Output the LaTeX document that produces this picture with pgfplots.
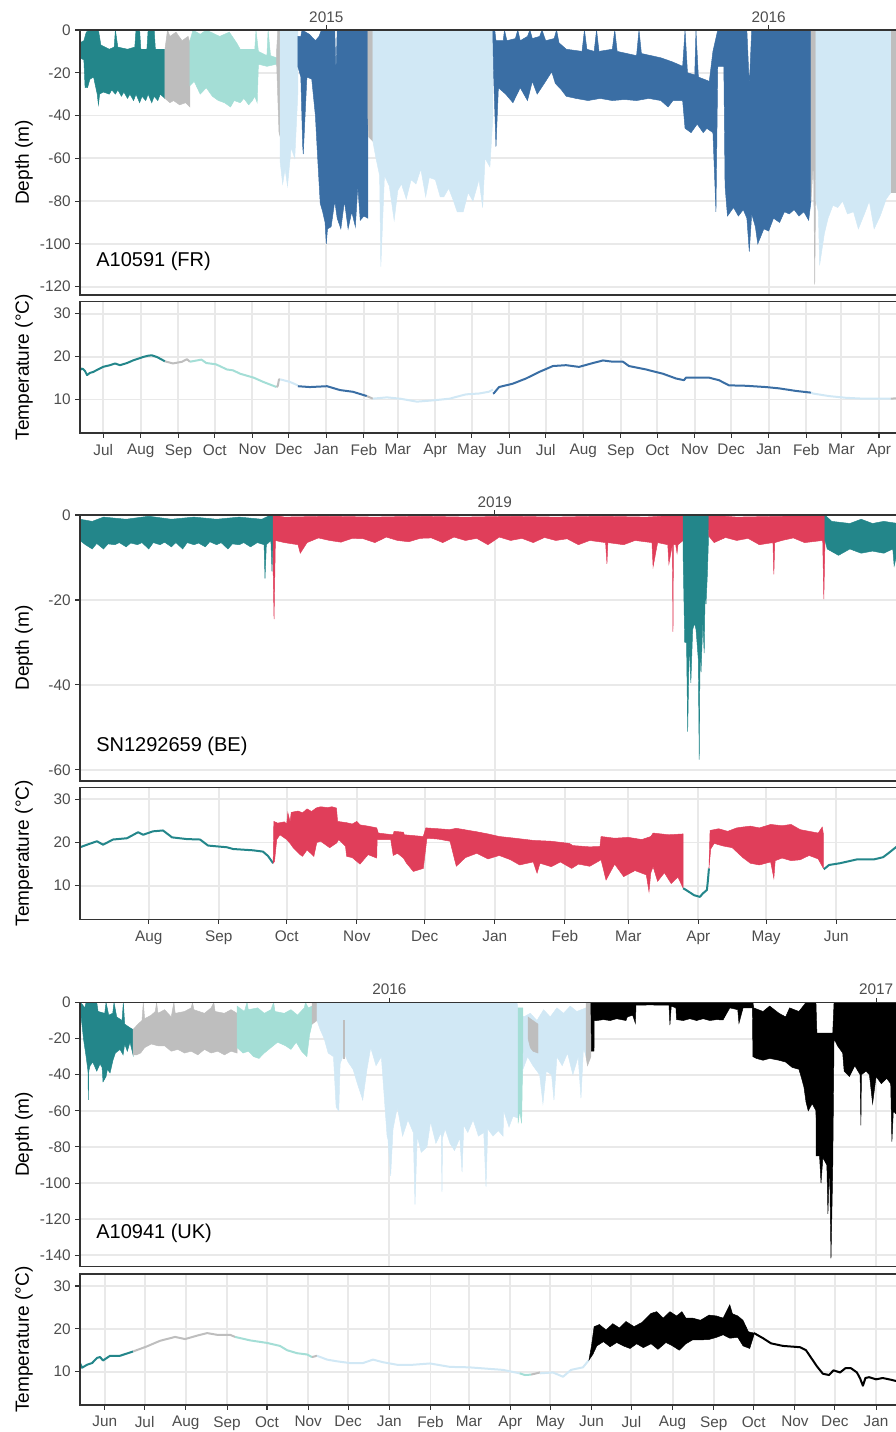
\documentclass[border=0pt]{standalone}
\usepackage{pgfplots}
\pgfplotsset{compat=1.18}
\usepackage{fontspec}
\setmainfont{Liberation Sans}
\definecolor{cteal}{RGB}{35,134,138}
\definecolor{cgray}{RGB}{190,190,190}
\definecolor{cmint}{RGB}{164,222,214}
\definecolor{clblue}{RGB}{209,232,245}
\definecolor{csteel}{RGB}{58,110,164}
\definecolor{cred}{RGB}{224,62,90}
\definecolor{cframe}{RGB}{51,51,51}
\definecolor{ctick}{RGB}{77,77,77}
\definecolor{cgrid}{RGB}{233,233,233}
\pgfplotsset{
 common/.style={
  scale only axis, width=613.5pt, anchor=south west,
  clip mode=individual,
  axis line style={cframe, line width=0.8pt},
  every tick/.style={cframe, line width=0.8pt},
  tick align=outside, major tick length=3.5pt,
  ytick pos=left,
  ticklabel style={font=\fontsize{11.5}{13}\selectfont, text=ctick},
  xmajorgrids, ymajorgrids,
  major grid style={cgrid, line width=1.4pt},
  ylabel style={font=\fontsize{14.3}{16}\selectfont, at={(axis description cs:-0.0685,0.5)}, anchor=center},
 },
 depth/.style={common, xtick pos=right, xticklabel pos=right, ylabel={Depth (m)},
   xticklabel style={yshift=-1.5pt}},
 temp/.style={common, xtick pos=left, ylabel={Temperature (°C)}, ymin=2.2, ymax=32.8,
   ytick={10,20,30}, yticklabels={10,20,30}, height=98.5pt, xticklabel style={yshift=-1.5pt}},
 seg/.style={fill=#1, draw=#1, line width=0.35pt},
 tl/.style={draw=#1, line width=1.5pt, line join=round},
}
\newcommand{\frameit}{\draw[cframe, line width=0.8pt] (rel axis cs:1,1) -- (rel axis cs:0,1) -- (rel axis cs:0,0) -- (rel axis cs:1,0);}
\begin{document}
\begin{tikzpicture}
%================ PANEL 1 depth (days from 2014-07-01)
\begin{axis}[depth, at={(60pt,852.75pt)}, height=198.75pt,
  xmin=-19.2, xmax=655.7, ymin=-123.9, ymax=0,
  ytick={-120,-100,-80,-60,-40,-20,0}, yticklabels={-120,-100,-80,-60,-40,-20,0},
  xtick={184,549}, xticklabels={2015,2016}]
\addplot[seg=cteal] coordinates {(-19.2,-6)(-16,-5)(-14,-1)(-11,0)(-4,0)(-2,-7)(5,-9)(9,-8)(10,0)(12,-8)(20,-9)(26,-8)(27,0)(30,0)(31,-9)(36,-9)(37,0)(42,0)(43,-9)(50.9,-9)
 (50.9,-32)(47,-30)(45,-33)(42,-31)(40,-34)(37,-30)(35,-33)(32,-31)(30,-34)(27,-30)(25,-33)(22,-30)(20,-32)(17,-29)(15,-31)(12,-28)(10,-30)(7,-28)(5,-30)(0,-29)(-3,-30)(-4,-35)(-5,-30)(-8,-22)(-11,-23)(-13,-27)(-15,-27)(-16,-14)(-19.2,-13)} -- cycle;
\addplot[seg=cgray] coordinates {(50.9,-9)(53,0)(55,-3)(60,-1)(65,-5)(70,-3)(71.5,-6)(71.5,-36)(68,-34)(63,-35)(58,-33)(55,-34)(50.9,-32)} -- cycle;
\addplot[seg=cmint] coordinates {(71.5,-5)(74,0)(80,-2)(85,0)(96,-3)(104,-1)(110,-6)(113,-9)(125,-9)(126,0)(128,-10)(135,-12)(136,0)(138,-12)(143,-13)
 (143,-16)(135,-17)(128,-16)(127,-34)(125,-31)(123,-33)(120,-35)(116,-32)(113,-34)(108,-33)(105,-36)(100,-34)(95,-33)(90,-31)(85,-27)(80,-30)(75,-24)(71.5,-26)} -- cycle;
\addplot[seg=cgray] coordinates {(143,-10)(144,0)(146,0)(146,-50)(145,-48)(143,-15)} -- cycle;
\addplot[seg=clblue] coordinates {(146,0)(160.5,0)(160.5,-30)(158,-60)(155,-55)(152,-73)(150,-65)(148,-72)(146,-62)} -- cycle;
\addplot[seg=csteel] coordinates {(160.5,-3)(163,-3)(164,0)(170,-2)(175,-5)(178,-3)(180,0)(191,0)(192,-20)(193,0)(218.3,0)
 (218.3,-88)(215,-87)(212,-89)(210,-73)(208,-92)(205,-85)(202,-93)(199,-80)(196,-93)(193,-88)(191,-80)(188,-92)(185,-93)(184,-100)(183,-90)(181,-85)(179,-81)(177,-61)(175,-40)(172,-23)(168,-22)(165,-58)(164.5,-54)(163,-22)(160.5,-17)} -- cycle;
\addplot[seg=cgray] coordinates {(218.3,0)(222.4,0)(222.4,-52)(219,-50)(218.3,-40)} -- cycle;
\addplot[seg=clblue] coordinates {(222.4,0)(321.5,0)(321.5,-40)(319,-64)(315,-60)(313,-83)(310,-70)(305,-80)(301,-76)(297,-85)(292,-85)(289,-80)(285,-74)(281,-78)(278,-78)(274,-70)(269,-69)(266,-78)(262,-65)(258,-72)(254,-70)(250,-79)(246,-72)(243,-75)(240,-89)(236,-73)(232,-68)(229,-110.6)(228,-68)(225,-60)(222.4,-52)} -- cycle;
\addplot[seg=csteel] coordinates {(321.5,0)(323,0)(324,-5)(330,-5)(331,0)(333,-5)(340,-4)(342,0)(344,-5)(350,-3)(352,0)(354,-4)(360,-3)(362,0)(365,-5)(372,-4)(374,0)(376,-6)(382,-9)(395,-10)(397,0)(399,-9)(405,-10)(407,0)(409,-10)(420,-9)(422,0)(424,-10)(440,-12)(442,0)(444,-11)(460,-13)(470,-15)(478,-17)(480,0)(482,-20)(488,-21)(489,0)(491,-22)(500,-24)(503,-10)(507,0)(512,0)(531,0)(533,-26)(535,0)(583.9,0)
 (583.9,-80)(582,-89)(578,-85)(574,-87)(570,-84)(566,-86)(562,-85)(558,-90)(553,-88)(549,-94)(545,-93)(540,-100)(538,-92)(535,-86)(533,-103.6)(531,-88)(528,-84)(524,-87)(520,-83)(515,-87)(513,-73)(512,-17)(507,-17)(505.5,-85)(503,-48)(498,-46)(495,-48)(490,-44)(485,-48)(480,-46)(478,-33)(470,-33)(466,-36)(460,-33)(450,-32)(440,-33)(430,-32.5)(420,-33)(410,-32)(400,-33)(390,-32)(382,-31)(378,-28)(373,-25)(370,-19.5)(365,-24)(358,-30)(354,-24)(350,-33)(344,-27)(338,-34)(332,-30)(326,-27)(324,-54.5)(322,-20)(321.5,-5)} -- cycle;
\addplot[seg=cgray] coordinates {(583.9,0)(588,0)(588,-60)(587,-119)(586,-60)(583.9,-80)} -- cycle;
\addplot[seg=clblue] coordinates {(588,0)(649.8,0)(649.8,-76)(646,-79)(641,-87)(636,-93)(632,-80)(628,-86)(623,-93)(619,-85)(614,-86)(610,-80)(606,-83)(602,-82)(598,-88)(595,-95)(591,-110)(590,-85)(588,-80)} -- cycle;
\addplot[seg=cgray] coordinates {(649.8,0)(655.7,0)(655.7,-76)(649.8,-76)} -- cycle;
\node[anchor=west, inner sep=0pt, font=\fontsize{15}{17}\selectfont] at (rel axis cs:0.0196,0.128) {A10591 (FR)};
\frameit
\end{axis}
%================ PANEL 1 temperature
\begin{axis}[temp, at={(60pt,749.25pt)},
  xmin=-19.2, xmax=655.7,
  xtick={0,31,62,92,123,153,184,215,243,274,304,335,365,396,427,457,488,518,549,580,609,640},
  xticklabels={Jul,Aug,Sep,Oct,Nov,Dec,Jan,Feb,Mar,Apr,May,Jun,Jul,Aug,Sep,Oct,Nov,Dec,Jan,Feb,Mar,Apr}]
\addplot[tl=cteal] coordinates {(-19.2,16.8)(-18,17.2)(-16.7,17.1)(-15,16.6)(-13.4,15.7)(-11,16.2)(-8.5,16.4)(-0.2,17.6)(5.5,18)(9.7,18.4)(13.8,18)(19.6,18.5)(24.5,19.1)(32.8,19.9)(36.9,20.2)(40,20.3)(44.3,19.9)(50.9,18.9)};
\addplot[tl=cgray] coordinates {(50.9,18.9)(57.5,18.4)(65,18.8)(69,19.4)(71.5,18.8)};
\addplot[tl=cmint] coordinates {(71.5,18.8)(81,19.3)(85,18.5)(93,18.2)(102,17)(107,16.8)(113,16)(124,15.1)(132,14.1)(143,12.9)};
\addplot[tl=cgray] coordinates {(143,12.9)(144,13.2)(145,14.7)(146,14.7)};
\addplot[tl=clblue] coordinates {(146,14.7)(154,14.1)(160.5,13.3)};
\addplot[tl=csteel] coordinates {(160.5,13.1)(170.5,12.9)(184.6,13.1)(195.3,12.2)(206,11.8)(217.5,10.8)};
\addplot[tl=cgray] coordinates {(217.5,10.8)(222.4,10.2)};
\addplot[tl=clblue] coordinates {(222.4,10.2)(234,10.5)(244.8,10.2)(258.8,9.5)(272,9.8)(286,10.2)(291,10.6)(299.3,11.2)(310,11.4)(318,11.8)(321.5,12.3)};
\addplot[tl=csteel] coordinates {(321.5,11.4)(322.4,11.5)(326.5,12.9)(338,13.7)(348.8,14.9)(359.5,16.4)(371,17.8)(381.8,18)(392.5,17.6)(404,18.5)(412.3,19.1)(420.5,18.8)(428.8,18.8)(433.7,17.8)(447.8,17)(461.8,16)(472.5,14.9)(479.1,14.5)(480.8,15.1)(499.7,15.1)(508,14.5)(516.2,13.3)(530.3,13.2)(546.8,12.9)(557.5,12.6)(571.5,12)(583.9,11.6)};
\addplot[tl=clblue] coordinates {(583.9,11.6)(585.5,11.4)(598.7,10.8)(612.7,10.4)(626.7,10.2)(640,10.2)(649.8,10.2)};
\addplot[tl=cgray] coordinates {(649.8,10.2)(655.7,10.3)};
\frameit
\end{axis}
%================ PANEL 2 depth (days from 2018-08-01)
\begin{axis}[depth, at={(60pt,488.25pt)}, height=199.5pt,
  xmin=-30.4, xmax=331.3, ymin=-62.6, ymax=0,
  ytick={-60,-40,-20,0}, yticklabels={-60,-40,-20,0},
  xtick={153}, xticklabels={2019}]
\addplot[seg=cteal] coordinates {(-30.4,-1)(-25,-1.5)(-20,-0.5)(-10,-1)(0,-0.3)(10,-1)(20,-0.5)(30,-1)(40,-0.5)(50,-1)(54,0)(55,0)
 (55,-6)(54.5,-13.3)(54,-6)(52,-7)(51.4,-15)(51,-7)(48,-6.5)(45,-7.5)(42,-6.5)(40,-7)(37,-6.8)(35,-8)(32,-6.5)(30,-7)(27,-6.3)(25,-7.5)(22,-6.6)(20,-7)(17,-6.5)(15,-8)(12,-6.5)(10,-7.5)(7,-6.4)(5,-7)(2,-6.5)(0,-8)(-3,-6.5)(-5,-7)(-8,-6.6)(-10,-7.5)(-13,-6.5)(-15,-7)(-18,-6.8)(-20,-8)(-23,-6.7)(-25,-8)(-28,-7)(-30.4,-6)} -- cycle;
\addplot[seg=cred] coordinates {(55,0)(60,-0.5)(80,-0.3)(100,-0.5)(120,-0.3)(140,-0.5)(160,-0.3)(180,-0.5)(200,-0.3)(220,-0.5)(236.3,0)
 (236.3,-6)(234,-7)(233.6,-9)(233,-7)(232,-7)(231.8,-27.5)(231.5,-7)(230,-11.5)(229.5,-7)(225,-6.5)(223,-12.2)(222.5,-6.5)(215,-6)(210,-7)(203,-6.5)(202.6,-11.5)(202,-6.5)(195,-6)(190,-7)(185,-5.6)(180,-6)(175,-5.3)(170,-6.5)(165,-5.5)(160,-6)(155,-5.2)(150,-7)(145,-5.5)(140,-6)(135,-5.2)(130,-6.5)(125,-5.4)(120,-5.5)(115,-6.3)(110,-6)(105,-5.2)(100,-6.5)(95,-5.6)(90,-5.5)(85,-6.4)(80,-6)(75,-5.4)(70,-6.5)(67,-9)(66,-7)(60,-6.5)(56,-6)(55.4,-24.5)(55,-13)} -- cycle;
\addplot[seg=cteal] coordinates {(236.3,0)(247.7,0)(247.7,-2)(247,-14)(246.4,-21)(246,-18)(245.6,-32.5)(245,-25)(244.2,-37)(243.8,-30)(243.4,-57.6)(243,-34)(242,-27)(241.3,-25.5)(240.5,-27)(239.7,-39.5)(239,-30)(238.3,-51)(237.8,-30)(237,-30)(236.3,-10)} -- cycle;
\addplot[seg=cred] coordinates {(247.7,0)(260,-0.5)(280,-0.3)(299,0)(299,-6)(298.5,-19.8)(298,-6)(290,-6.5)(285,-5.4)(280,-6)(276.8,-6.5)(276.4,-14)(276,-6.5)(270,-7)(265,-5.5)(260,-6)(255,-5.3)(250,-6.5)(247.7,-5)} -- cycle;
\addplot[seg=cteal] coordinates {(299,0)(302,-1.5)(310,-2)(315,-1)(320,-2)(325,-1.5)(331.3,-2)(331.3,-8)(329.6,-12)(329,-8)(325,-9)(320,-8.5)(315,-9)(310,-8)(305,-9.5)(300,-8)(299,-6)} -- cycle;
\node[anchor=west, inner sep=0pt, font=\fontsize{15}{17}\selectfont] at (rel axis cs:0.0196,0.130) {SN1292659 (BE)};
\frameit
\end{axis}
%================ PANEL 2 temperature
\begin{axis}[temp, at={(60pt,384.5pt)}, height=99pt,
  xmin=-30.4, xmax=331.3,
  xtick={0,31,61,92,122,153,184,212,243,273,304},
  xticklabels={Aug,Sep,Oct,Nov,Dec,Jan,Feb,Mar,Apr,May,Jun}]
\addplot[tl=cteal] coordinates {(-30.4,18.9)(-27.3,19.5)(-22.9,20.3)(-20.2,19.5)(-15.8,20.7)(-9.6,21.0)(-4.7,22.4)(-2.5,21.8)(1.9,22.6)(6.3,22.8)(10.3,21.2)(16.9,20.8)(22.7,20.7)(26.2,19.3)(34.6,18.9)(37.3,18.5)(46.1,18.2)(50.5,17.9)(52.7,16.9)(55,15.2)};
\addplot[seg=cred] coordinates {(55,15.2)(55.3,24.9)(57,24.5)(60,24.8)(61,24.3)(61.5,26.9)(62.5,24.8)(63,27)(66,27.3)(68,26.9)(70,27.8)(72,27.2)(74,28)(76,28.3)(79,28.1)(81,28.3)(83,28)(83.5,24.9)(87.5,24.6)(90,24.3)(92,24.9)(93.4,24.1)(97,23.8)(100.8,23.4)(101.5,22.2)(108,21.8)(108.5,22.6)(112.6,22.4)(113,21.8)(121.4,21.4)(122.5,23.4)(128,23.2)(133,23)(136,23.3)(145,22.5)(150,22)(155,21.4)(162,21)(170,20.5)(178,20.3)(186,19.8)(187.5,19.3)(195,19)(199.5,19.1)(200,21.4)(206,21)(212,21.2)(218,20.7)(222,21.4)(223,22.2)(230,21.8)(236.3,22)
 (236.3,9.4)(234,12)(231,10.5)(228,13)(225,11)(223,14.4)(222,13)(221.2,8.6)(220,12.5)(215,13.5)(210,12.1)(206,15)(202.2,11.3)(200,16)(195,14.5)(190,15)(187,14)(182,15.5)(178,14.4)(173,15.2)(171.7,12.9)(170,15.5)(164,14.8)(160,16)(155,17)(150,16.2)(145,17.5)(140,16.5)(136,14.5)(133.2,20.3)(128,20.8)(123,21)(121.4,14)(117,13.3)(114,15.2)(112.6,16.4)(110,17.5)(108.1,17)(107,20.7)(101,20.7)(100.8,16.4)(97,17.2)(93.4,15)(90,16.5)(87.5,16.8)(87,19.1)(84,20.7)(83.1,19.9)(80,18.8)(76,20.3)(74.3,20)(73,16.8)(70,18.3)(68,16.8)(66.9,17.2)(64,18.7)(62.5,19.8)(61,20.7)(58,21.8)(56.6,20.7)(55.6,15.6)} -- cycle;
\addplot[tl=cteal] coordinates {(236.3,9.4)(237.6,9)(241.1,7.8)(243.7,7.4)(245,8.2)(246.8,9)(247.2,11)(247.7,14)};
\addplot[seg=cred] coordinates {(247.7,14)(248.2,22.8)(252,23.2)(256,22.6)(260,23.4)(262.7,23.6)(266,23.8)(270,23.4)(275,24.2)(280,23.9)(284,24.2)(288,23)(292,22.6)(296,22.2)(297.8,23.6)(298.3,22)
 (298.3,14)(296,16.2)(292,17)(288,16)(284,15.8)(280,16.4)(277,15.8)(276.4,11.7)(275,15.5)(270,14.8)(266,15.2)(262.7,16.5)(258,18.8)(254,19.2)(250,19.8)(248.5,18.5)} -- cycle;
\addplot[tl=cteal] coordinates {(298.5,13.8)(300.8,14.8)(305.6,15.2)(313.2,16.1)(320.7,16.1)(324.7,16.6)(327,17.5)(331.3,19.3)};
\frameit
\end{axis}
%================ PANEL 3 depth (days from 2015-06-01)
\begin{axis}[depth, at={(60pt,124pt)}, height=198.15pt,
  xmin=-18.6, xmax=596.5, ymin=-146.3, ymax=0,
  ytick={-140,-120,-100,-80,-60,-40,-20,0}, yticklabels={-140,-120,-100,-80,-60,-40,-20,0},
  xtick={214,580}, xticklabels={2016,2017}]
\addplot[seg=cteal] coordinates {(-18.6,0)(-17,-1)(-15,-3)(-14,0)(-6,0)(-5,-5)(0,-6)(1,0)(3,-7)(6,-6)(7,0)(9,-8)(13,-10)(14,0)(15,-12)(19,-14)(21.3,-15)
 (21.3,-29)(19,-22)(17,-27)(15,-23)(13.8,-29)(11.5,-26)(8,-28)(6.2,-32)(4,-39)(2,-37)(1,-41)(-1.3,-44)(-2,-36)(-3.5,-34)(-6,-38)(-9,-33)(-11,-35)(-12,-38)(-12.3,-54)(-12.6,-38)(-14,-30)(-14.8,-26)(-16,-20)(-17,-13)(-18.6,-3)} -- cycle;
\addplot[seg=cgray] coordinates {(21.3,-15)(25,-12)(28,-10)(29,0)(30,-9)(35,-7)(38,-5)(39,0)(40,-6)(45,-4)(50,-8)(52,0)(53,-6)(60,-5)(65,-3)(66,0)(67,-4)(75,-6)(80,-3)(82,0)(83,-5)(90,-6)(95,-4)(99.5,-6)
 (99.5,-28)(95,-27)(90,-29)(85,-27)(80,-28)(75,-26)(70,-29)(65,-27)(60,-28)(55,-26)(50,-27)(45,-24)(40,-24)(35,-23)(30,-25)(27,-28)(24,-29)(21.3,-29)} -- cycle;
\addplot[seg=cmint] coordinates {(99.5,-2)(105,-5)(107,0)(108,-4)(115,-3)(120,-6)(125,-4)(127,0)(128,-5)(135,-6)(140,-4)(145,-7)(150,-3)(151,0)(153,-3)(155.9,-2)
 (155.9,-12)(154,-18)(152,-30)(148,-27)(144,-22)(140,-26)(136,-24)(130,-22)(125,-25)(120,-28)(116,-31)(112,-30)(108,-27)(104,-28)(99.5,-25)} -- cycle;
\addplot[seg=cgray] coordinates {(155.9,0)(159.6,0)(159.6,-10)(155.9,-12)} -- cycle;
\addplot[seg=clblue] coordinates {(159.6,0)(310,0)(311,-5)(315,-8)(320,-6)(325,-10)(330,-4)(335,-8)(340,-3)(345,-6)(350,-2)(355,-5)(361.9,-3)
 (361.9,-30)(360,-25)(358.1,-53)(356,-30)(352,-40)(348,-28)(344,-35)(340,-30)(337.8,-54)(336,-40)(332,-38)(329.5,-56)(327,-40)(322,-35)(318,-30)(314.5,-37)(313,-50)(310.8,-64)(307,-63)(304,-69)(300,-60)(299.5,-74)(296,-71)(292,-74)(288,-70)(286.7,-102)(285,-72)(281,-74)(277,-65)(273,-72)(270,-68)(268.7,-94)(267,-75)(263,-82)(259.6,-78)(256,-70)(254,-75)(253.6,-105)(253,-72)(249,-78)(245,-66)(242.3,-80)(238,-83)(235,-74)(233.3,-112)(232,-72)(228,-65)(224,-74)(220,-58)(216.8,-70)(215,-96)(213,-76)(212.3,-74)(208,-30)(204,-35)(200,-25)(197.2,-37)(194,-54)(190,-45)(186.7,-37)(183,-33)(180,-28)(177,-34)(176,-60)(174,-58)(172,-30)(168,-28)(165,-20)(162,-15)(159.6,-10)} -- cycle;
\addplot[seg=cgray] coordinates {(179.5,-10)(180.2,-10)(180.2,-31)(179.5,-31)} -- cycle;
\addplot[seg=cmint] coordinates {(310.8,-3)(314.5,-3)(314.5,-20)(313.5,-67)(312,-60)(310.8,-67)} -- cycle;
\addplot[seg=cgray] coordinates {(318.3,-8)(320,-9)(322,-10)(325.8,-12)(325.8,-28)(322,-27)(320,-25)(318.3,-20)} -- cycle;
\addplot[seg=cgray] coordinates {(361.9,0)(365.6,0)(365.6,-30)(363,-35)(361.9,-30)} -- cycle;
\addplot[seg=black] coordinates {(365.6,0)(487.4,0)(488,-3)(495,-5)(500,-2)(507,-6)(512,-8)(515,-3)(522,-5)(527.3,0)(534.8,0)(535.5,-17)(547.4,-17)(548.4,0)(596.5,0)
 (596.5,-63)(593,-60)(591.9,-77)(591,-45)(588,-42)(584,-45)(580,-41)(577.4,-56)(575,-40)(572.4,-38)(569,-40)(568.6,-68)(568,-40)(564,-35)(560,-41)(556,-38)(554.9,-28)(551,-24)(548.4,-20)(547.4,-93)(546.1,-141.7)(545.2,-96)(544.8,-93)(543.8,-117)(543,-90)(540,-86)(538.6,-100)(537.5,-85)(535,-85)(534.8,-60)(532,-56)(529,-60)(527.3,-55)(525.8,-47)(524,-42)(522,-37)(517,-36)(512,-33)(507,-32)(500,-31)(495,-32)(490,-31)(487.4,-30)(487,-3)(480,-3)(476.9,-11.5)(476,-4)(470,-3)(464.9,-9.7)(460,-9.5)(455,-10)(450,-9)(445,-10)(440,-9)(435,-10)(430,-9.5)(429.5,-3)(426,-2)(425,-12.5)(424.3,-1.5)(415,-1.5)(410,-1.3)(405,-1.5)(399.5,-1.4)(399,-11.5)(397,-7)(393,-8)(391.9,-10)(385,-9)(380,-10)(375,-9.5)(370,-10)(368,-10)(367.9,-27)(366,-27)(365.6,-5)} -- cycle;
\node[anchor=west, inner sep=0pt, font=\fontsize{15}{17}\selectfont] at (rel axis cs:0.0196,0.126) {A10941 (UK)};
\frameit
\end{axis}
%================ PANEL 3 temperature
\begin{axis}[temp, at={(60pt,20.25pt)}, height=98.25pt,
  xmin=-18.6, xmax=596.5,
  xtick={0,30,61,92,122,153,183,214,245,274,305,335,366,396,427,458,488,519,549,580},
  xticklabels={Jun,Jul,Aug,Sep,Oct,Nov,Dec,Jan,Feb,Mar,Apr,May,Jun,Jul,Aug,Sep,Oct,Nov,Dec,Jan}]
\addplot[tl=cteal] coordinates {(-18.6,12)(-17.1,10.9)(-13.3,11.6)(-9.5,12)(-5.8,13.2)(-3.5,13.4)(-1.3,12.6)(4,13.7)(11.5,13.7)(21.3,14.7)};
\addplot[tl=cgray] coordinates {(21.3,14.7)(31.8,15.9)(41.6,17.2)(52.9,18.1)(60.4,17.6)(69.4,18.4)(77,19)(84.4,18.6)(94.2,18.6)(98,18.1)};
\addplot[tl=cmint] coordinates {(98,18.1)(109.2,17.3)(122,16.7)(131.8,16)(137.1,15)(144.6,14.3)(152.1,14)(155.9,13.4)};
\addplot[tl=cgray] coordinates {(155.9,13.4)(159.6,13.7)};
\addplot[tl=clblue] coordinates {(159.6,13.7)(167.2,12.8)(174.7,12.4)(184.4,12)(194.2,12)(201.7,12.8)(209.2,12.2)(219.8,11.6)(231.8,11.6)(244.6,11.9)(259.6,11.1)(273.9,11)(299.5,10.4)(312,9.6)};
\addplot[tl=cmint] coordinates {(312,9.6)(316,9.2)(320.6,9.3)};
\addplot[tl=cgray] coordinates {(320.6,9.3)(327.3,9.8)};
\addplot[tl=clblue] coordinates {(327.3,9.6)(337,9.8)(344.6,8.8)(350.6,10.4)(359.6,11)(364.1,12.7)};
\addplot[seg=black] coordinates {(364.1,12.7)(366,16)(368,20.5)(372,21)(377,19.7)(382,21.2)(387,20.2)(392,21.7)(398,20.5)(404,21.5)(410.8,23.6)(415,24)(420,22.5)(425,24)(430,23)(434,24)(437,22.5)(442,22.5)(448,22)(454.4,23.2)(460,23)(465,22.5)(470,25.6)(472,23.5)(476,23)(479.9,22)(484,19.3)(488.2,19)
 (488.2,18.6)(485,15.4)(480,16)(476,18)(470,17.8)(465,18.6)(460,18)(454.4,17.5)(448,17.4)(442,17.4)(437,16.5)(432,15)(427,16)(422,16.8)(416,15.2)(410.8,16.5)(405,15.6)(400,16.5)(395,15.4)(390,16)(385,16.8)(380,15.8)(375,17)(370,16)(367,14)} -- cycle;
\addplot[tl=black] coordinates {(488.2,19)(495,17.8)(501,16.6)(510,16)(522.8,15.7)(527.3,15)(535.6,11.2)(540,9.5)(544.6,9.2)(548,10.3)(552.9,9.8)(557,10.8)(561.1,10.8)(565.6,9.8)(568,8.4)(570.1,6.7)(572,8.5)(574.7,8.7)(580,8.2)(585,8.5)(591.2,8.1)(596.5,7.7)};
\frameit
\end{axis}
\pgfresetboundingbox
\path[use as bounding box] (0,0) rectangle (672pt,1074pt);
\end{tikzpicture}
\end{document}
